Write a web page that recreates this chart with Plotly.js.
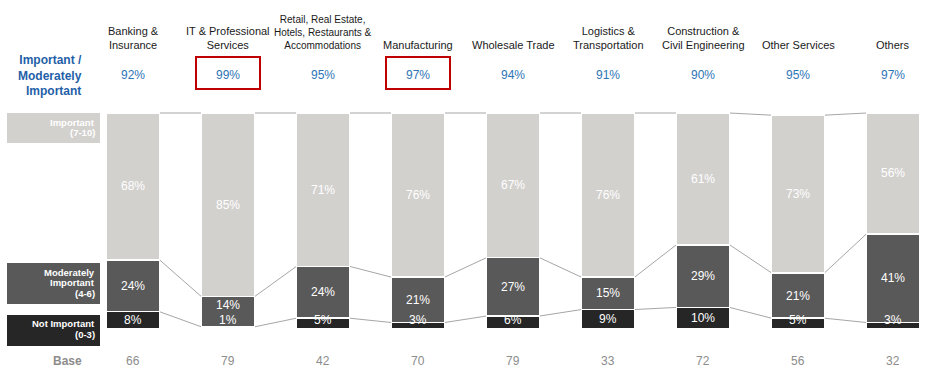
<!DOCTYPE html>
<html>
<head>
<meta charset="utf-8">
<script src="https://cdn.plot.ly/plotly-3.0.1.min.js"></script>
<style>html,body{margin:0;padding:0;background:#fff;}#chart{width:931px;height:386px;}</style>
</head>
<body>
<div id="chart"></div>
<script>
const categories = ["Banking &<br>Insurance", "IT & Professional<br>Services", "Retail, Real Estate,<br>Hotels, Restaurants &<br>Accommodations", "Manufacturing", "Wholesale Trade", "Logistics &<br>Transportation", "Construction &<br>Civil Engineering", "Other Services", "Others"];
const importantOrModerate = [92, 99, 95, 97, 94, 91, 90, 95, 97];
const important = [68, 85, 71, 76, 67, 76, 61, 73, 56];
const moderate = [24, 14, 24, 21, 27, 15, 29, 21, 41];
const notImportant = [8, 1, 5, 3, 6, 9, 10, 5, 3];
const base = [66, 79, 42, 70, 79, 33, 72, 56, 32];
const highlighted = [false, true, false, true, false, false, false, false, false];
const segmentLabels = [["Important", "(7-10)"], ["Moderately", "Important", "(4-6)"], ["Not Important", "(0-3)"]];
const rowLabel = "Important /<br>Moderately<br>Important";
const baseLabel = "Base";

const W = 931, H = 386;
const FONT = "Liberation Sans, Arial, sans-serif";
const C_IMP = "#d3d1ce", C_MOD = "#595959", C_NOT = "#262626";
const BAR_W = 0.56;
const xs = categories.map((_, i) => i);
const py = p => 1 - p / H;
const px = p => p / W;

const traces = [
  {type: "bar", x: xs, y: notImportant, width: BAR_W, marker: {color: C_NOT, line: {color: "#ffffff", width: 1.5}}, hoverinfo: "none"},
  {type: "bar", x: xs, y: moderate, width: BAR_W, marker: {color: C_MOD, line: {color: "#ffffff", width: 1.5}}, hoverinfo: "none"},
  {type: "bar", x: xs, y: important, width: BAR_W, marker: {color: C_IMP, line: {color: "#ffffff", width: 1.5}}, hoverinfo: "none"}
];

const annotations = [];
const shapes = [];
const txt = (o) => Object.assign({showarrow: false, xanchor: "center", yanchor: "middle"}, o);

xs.forEach(i => {
  const n = notImportant[i], m = moderate[i], im = important[i];
  const yNot = Math.max(n / 2, 4);
  const yMod = Math.max(n + m / 2, yNot + 7);
  annotations.push(txt({x: i, y: yNot, xref: "x", yref: "y", text: n + "%", font: {family: FONT, size: 12, color: "#ffffff"}}));
  annotations.push(txt({x: i, y: yMod, xref: "x", yref: "y", text: m + "%", font: {family: FONT, size: 12, color: "#ffffff"}}));
  annotations.push(txt({x: i, y: n + m + im / 2, xref: "x", yref: "y", text: im + "%", font: {family: FONT, size: 12, color: "#ffffff"}}));
  const nLines = categories[i].split("<br>").length;
  annotations.push(txt({x: i, y: py(53), xref: "x", yref: "paper", yanchor: "bottom", text: categories[i],
    font: {family: FONT, size: nLines > 2 ? 10 : 11, color: "#1a1a1a"}}));
  annotations.push(txt({x: i, y: py(75), xref: "x", yref: "paper", text: importantOrModerate[i] + "%",
    font: {family: FONT, size: 12, color: "#2e75b6"}}));
  annotations.push(txt({x: i, y: py(361), xref: "x", yref: "paper", text: String(base[i]),
    font: {family: FONT, size: 12, color: "#8c8c8c"}}));
  if (highlighted[i]) {
    shapes.push({type: "rect", xref: "x", yref: "paper", x0: i - 32 / 95, x1: i + 32 / 95, y0: py(89), y1: py(57),
      line: {color: "#c00000", width: 2}});
  }
  if (i < xs.length - 1) {
    const lv1 = [n, n + m, n + m + im];
    const n2 = notImportant[i + 1], m2 = moderate[i + 1], im2 = important[i + 1];
    const lv2 = [n2, n2 + m2, n2 + m2 + im2];
    for (let k = 0; k < 3; k++) {
      shapes.push({type: "line", xref: "x", yref: "y", x0: i + BAR_W / 2, x1: i + 1 - BAR_W / 2, y0: lv1[k], y1: lv2[k],
        line: {color: "#a6a6a6", width: 1}, layer: "below"});
    }
  }
});

annotations.push(txt({x: px(84), y: py(75), xref: "paper", yref: "paper", xanchor: "right", align: "right", text: "<b>" + rowLabel + "</b>",
  font: {family: FONT, size: 12, color: "#1f5fa8"}}));
annotations.push(txt({x: px(67), y: py(361), xref: "paper", yref: "paper", text: "<b>" + baseLabel + "</b>",
  font: {family: FONT, size: 12, color: "#8c8c8c"}}));

const boxes = [
  {y0: 113, y1: 143, color: C_IMP, lines: segmentLabels[0], ly: [122, 132.5]},
  {y0: 263, y1: 304, color: C_MOD, lines: segmentLabels[1], ly: [272, 282.5, 293]},
  {y0: 315, y1: 346, color: C_NOT, lines: segmentLabels[2], ly: [323.5, 334]}
];
boxes.forEach(b => {
  shapes.push({type: "rect", xref: "paper", yref: "paper", x0: px(7), x1: px(100), y0: py(b.y1), y1: py(b.y0), fillcolor: b.color, line: {width: 0}});
  b.lines.forEach((t, k) => {
    annotations.push(txt({x: px(96), y: py(b.ly[k]), xref: "paper", yref: "paper", xanchor: "right", borderpad: 0, text: "<b>" + t + "</b>",
      font: {family: FONT, size: 9.5, color: "#ffffff"}}));
  });
});

const layout = {
  width: W, height: H,
  margin: {l: 0, r: 0, t: 0, b: 0},
  paper_bgcolor: "#ffffff", plot_bgcolor: "#ffffff",
  barmode: "stack", showlegend: false,
  xaxis: {range: [-133 / 95, (W - 133) / 95], showgrid: false, zeroline: false, showticklabels: false, fixedrange: true},
  yaxis: {range: [(329 - H) / 2.16, 329 / 2.16], showgrid: false, zeroline: false, showticklabels: false, fixedrange: true},
  annotations: annotations,
  shapes: shapes
};

Plotly.newPlot("chart", traces, layout, {displayModeBar: false, staticPlot: true});
</script>
</body>
</html>
